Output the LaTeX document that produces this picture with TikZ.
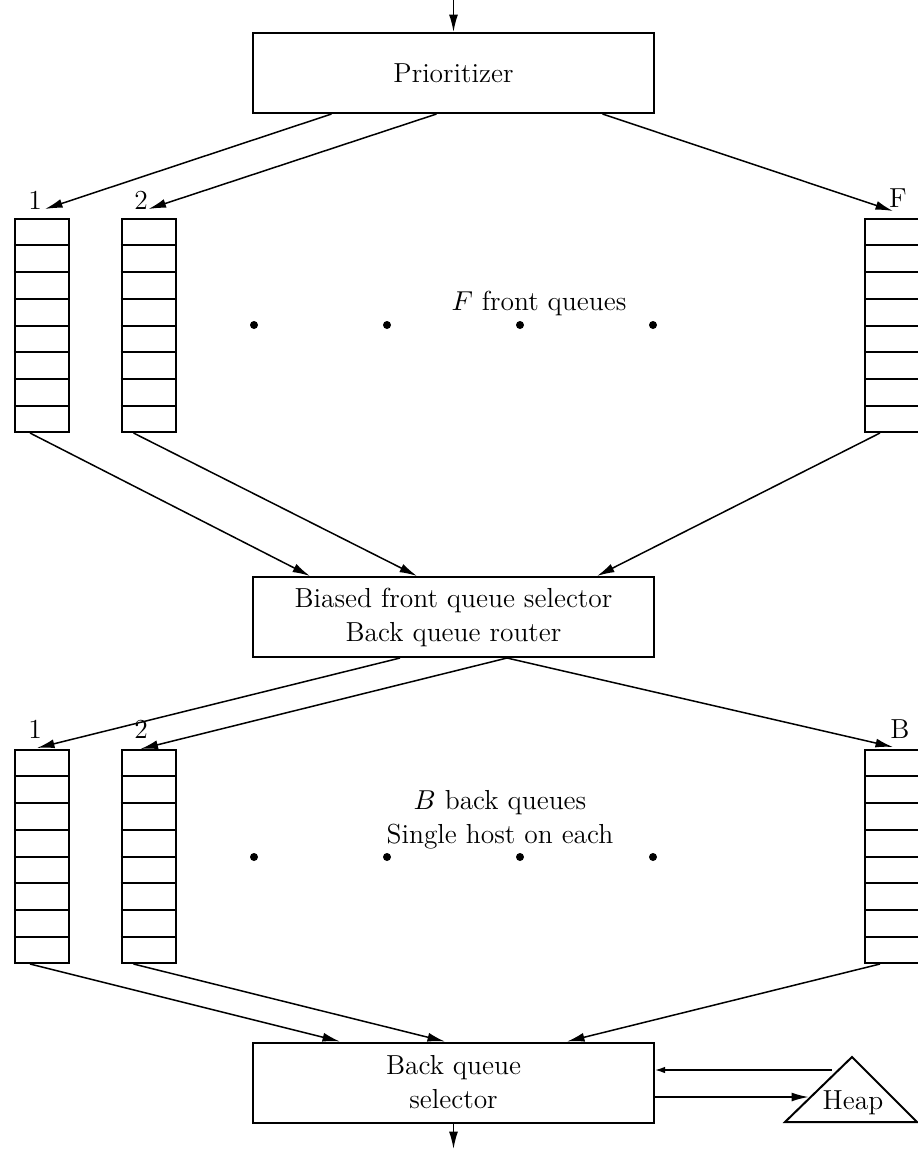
\documentclass[tikz,border=0pt]{standalone}
\usepackage{tikz}
\usetikzlibrary{calc,arrows.meta}

\tikzset{
  procbox/.style={draw, line width=0.8pt, minimum width=160.4pt, minimum height=32pt, align=center, inner sep=0pt},
  queuecol/.style={draw, line width=0.8pt, minimum width=21.6pt, minimum height=85.2pt, inner sep=0pt},
  arr/.style={-{Latex[length=7pt,width=3.6pt]}, line width=0.6pt},
  smallarr/.style={-{Latex[length=4pt,width=2.6pt]}, line width=0.55pt}
}

\begin{document}
\begin{tikzpicture}[x=0.4pt,y=-0.4pt,font=\fontsize{11}{13.6}\selectfont]
    \useasboundingbox (0,0) rectangle (918,1149);
    % Define boxes
    \node[procbox] (prio) at (453.5,73) {Prioritizer};
    \node[procbox] (sel1) at (453.5,617) {Biased front queue selector\\Back queue router};
    \node[procbox] (sel2) at (453.5,1082.5) {Back queue\\selector};
    \coordinate (in) at (453.5,0);
    \coordinate (out) at (453.5,1149);
    \draw[arr] (in) -- (prio.north);
    \draw[arr] (sel2.south) -- (out);
    % Front queues
    \node[queuecol] (qf1) at (42,325.5) {};
    \node[queuecol] (qf2) at (148.5,325.5) {};
    \node[queuecol] (qfF) at (892,325.5) {};
    % Back queues
    \node[queuecol] (qb1) at (42,856.5) {};
    \node[queuecol] (qb2) at (148.5,856.5) {};
    \node[queuecol] (qbB) at (892,856.5) {};
    % Cells of the queues
    \foreach \q in {qf1,qf2,qfF,qb1,qb2,qbB}
      \foreach \k in {1,...,7}
        \draw[line width=0.8pt] ($(\q.north west)!\k/8!(\q.south west)$) -- ($(\q.north east)!\k/8!(\q.south east)$);
    % Queue labels
    \node (lf1) at (35,200) {1};
    \node (lf2) at (141,200) {2};
    \node (lfF) at (898,198) {F};
    \node (lb1) at (35,729) {1};
    \node (lb2) at (141,729) {2};
    \node (lbB) at (900,729) {B};
    % Dots
    \foreach \x in {254,387,520,653} {
      \fill (\x,325) circle (1.6pt);
      \fill (\x,857) circle (1.6pt);
    }
    \node (ftext) at (539,303) {$F$ front queues};
    \node[align=center] (btext) at (500,820) {$B$ back queues\\Single host on each};
    % Prioritizer to front queues
    \draw[arr] ($(prio.south)+(-122,0)$) -- ($(qf1.north)+(3,-9)$);
    \draw[arr] ($(prio.south)+(-17,0)$) -- ($(qf2.north)+(0,-9)$);
    \draw[arr] ($(prio.south)+(149,0)$) -- ($(qfF.north)+(1,-7)$);
    % Front queues to selector
    \draw[arr] ($(qf1.south)+(-12,0)$) -- ($(sel1.north)+(-143.5,0)$);
    \draw[arr] ($(qf2.south)+(-15,0)$) -- ($(sel1.north)+(-36.5,0)$);
    \draw[arr] ($(qfF.south)+(-12,0)$) -- ($(sel1.north)+(143.5,0)$);
    % Router to back queues
    \draw[arr] ($(sel1.south)+(-53.5,0)$) -- ($(qb1.north)+(-5,-1)$);
    \draw[arr] ($(sel1.south)+(53.5,0)$) -- ($(qb2.north)+(-8,0)$);
    \draw[arr] ($(sel1.south)+(53.5,0)$) -- ($(qbB.north)+(1,-2)$);
    % Back queues to back queue selector
    \draw[arr] ($(qb1.south)+(-12,0)$) -- ($(sel2.north)+(-113.5,0)$);
    \draw[arr] ($(qb2.south)+(-15,0)$) -- ($(sel2.north)+(-8.5,0)$);
    \draw[arr] ($(qbB.south)+(-12,0)$) -- ($(sel2.north)+(113.5,0)$);
    % Heap
    \coordinate (hA) at (852,1057);
    \coordinate (hL) at (785,1122);
    \coordinate (hR) at (917,1122);
    \draw[line width=0.8pt] (hA) -- (hL) -- (hR) -- cycle;
    \node (heap) at (853,1103) {Heap};
    \coordinate (hout) at (832,1070);
    \coordinate (hin) at (809,1097);
    \draw[smallarr] (hout) -- ($(sel2.east)+(0,-12.5)$);
    \draw[arr, line width=0.8pt] ($(sel2.east)+(0,14.5)$) -- (hin);
\end{tikzpicture}
\end{document}
